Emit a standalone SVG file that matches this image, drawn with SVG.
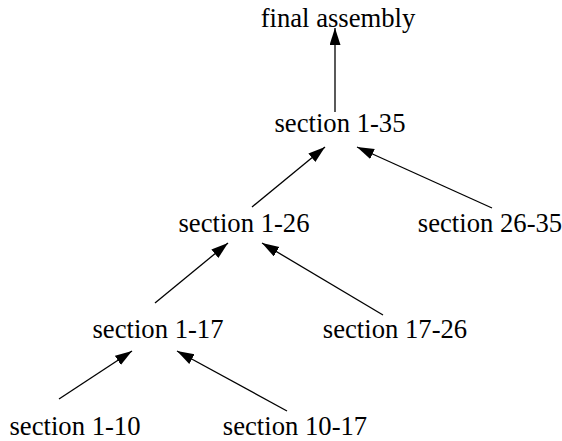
<svg xmlns="http://www.w3.org/2000/svg" width="562" height="441" viewBox="0 0 562 441">
  <style>
    .lbl { font-family: "Liberation Serif", "Times New Roman", serif; font-size: 26.67px; fill: #000; text-anchor: middle; }
    .edge { stroke: #000; stroke-width: 1.3; fill: none; marker-end: url(#arrow); }
  </style>
  <defs>
    <!-- filled triangular arrowhead, tip at the end of each connector -->
    <marker id="arrow" markerUnits="userSpaceOnUse" markerWidth="19" markerHeight="13" refX="17" refY="5.5" orient="auto">
      <path d="M0,0 L17,5.5 L0,11 z" fill="#000"/>
    </marker>
  </defs>
  <rect width="562" height="441" fill="#fff"/>

  <g id="connectors">
    <line class="edge" x1="335" y1="112" x2="335" y2="28"/>
    <line class="edge" x1="252" y1="207" x2="325" y2="147"/>
    <line class="edge" x1="492" y1="208" x2="357" y2="147"/>
    <line class="edge" x1="155" y1="303" x2="228" y2="243"/>
    <line class="edge" x1="383" y1="315" x2="262" y2="243"/>
    <line class="edge" x1="59" y1="399" x2="132" y2="351"/>
    <line class="edge" x1="287" y1="411" x2="177" y2="351"/>
  </g>

  <g id="final-assembly"><text class="lbl" x="338" y="27">final assembly</text></g>
  <g id="section-1-35"><text class="lbl" x="340" y="132">section 1-35</text></g>
  <g id="section-1-26"><text class="lbl" x="244" y="232">section 1-26</text></g>
  <g id="section-26-35"><text class="lbl" x="490" y="232">section 26-35</text></g>
  <g id="section-1-17"><text class="lbl" x="158" y="338">section 1-17</text></g>
  <g id="section-17-26"><text class="lbl" x="395" y="338">section 17-26</text></g>
  <g id="section-1-10"><text class="lbl" x="75" y="435">section 1-10</text></g>
  <g id="section-10-17"><text class="lbl" x="295" y="435">section 10-17</text></g>
</svg>
